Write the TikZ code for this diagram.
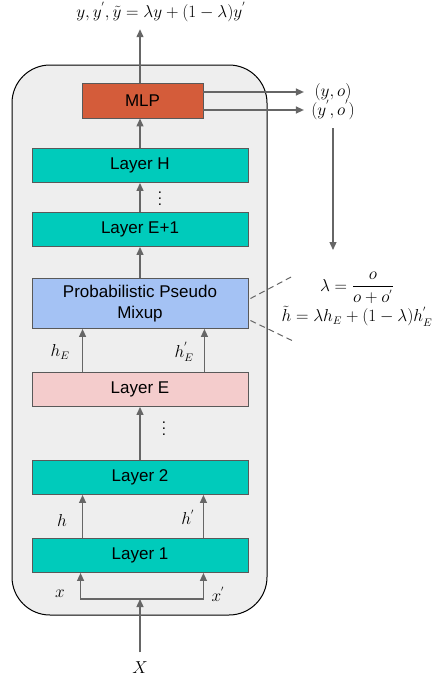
\documentclass[tikz,border=0pt]{standalone}
\usepackage{amsmath}
\usepackage{fontspec}
\setmainfont{Liberation Sans}
\usepackage{tikz}
\usetikzlibrary{arrows.meta, positioning}

\definecolor{tealfill}{RGB}{0,203,187}
\definecolor{mlpfill}{RGB}{212,92,58}
\definecolor{mixfill}{RGB}{164,194,244}
\definecolor{pinkfill}{RGB}{244,204,204}
\definecolor{boxline}{RGB}{89,89,89}
\definecolor{arrowgray}{RGB}{102,102,102}
\definecolor{backfill}{RGB}{238,238,238}

\newcommand{\lyrfont}{\fontsize{17}{21}\selectfont}
\newcommand{\mathsz}{\fontsize{16}{19}\selectfont}
\newcommand{\dotsfont}{\fontsize{15}{6}\selectfont}

\begin{document}
\begin{tikzpicture}[x=1pt, y=-1pt, node distance=64pt]
\tikzstyle{layer} = [rectangle, minimum width=216pt, minimum height=34pt, text centered, align=center, draw=boxline, line width=0.9pt, fill=tealfill, font=\lyrfont]
\tikzstyle{line} = [draw=arrowgray, line width=1.3pt, -{Triangle[length=8pt,width=7pt]}]
\tikzstyle{lbl} = [font=\mathsz, inner sep=0.5pt]
\tikzstyle{vdots} = [font=\dotsfont, align=center, inner sep=0pt]
\tikzstyle{dashline} = [draw=arrowgray, line width=1pt, dash pattern=on 6pt off 4pt]

\useasboundingbox (0,0) rectangle (432,681);
% backbone
\draw[rounded corners=38pt, fill=backfill, line width=1pt] (12,65) rectangle (267,615);

\node (mlp) [layer, fill=mlpfill, minimum width=121pt, minimum height=35pt] at (142.5,100.5) {MLP};
\node (layerH) [layer, below of=mlp, xshift=-2.5pt, yshift=-1pt] {Layer H};
\node (layerE1) [layer, below of=layerH] {Layer E+1};
\node (mixup) [layer, fill=mixfill, minimum height=50pt, below of=layerE1, yshift=-10pt] {Probabilistic Pseudo\\Mixup};
\node (layerE) [layer, fill=pinkfill, below of=mixup, yshift=-22pt] {Layer E};
\node (layer2) [layer, below of=layerE, yshift=-24pt] {Layer 2};
\node (layer1) [layer, below of=layer2, yshift=-14pt] {Layer 1};

\node (dotsA) [vdots] at (160,199) {.\\.\\.};
\node (dotsB) [vdots] at (164,429) {.\\.\\.};

% labels
\node (out) [lbl] at (161,12) {$y,y^{'},\tilde{y}=\lambda y+(1-\lambda)y^{'}$};
\node (X) [lbl] at (140,668) {$X$};
\node (xa) [lbl] at (60,594) {$x$};
\node (xb) [lbl] at (218,594) {$x^{'}$};
\node (ha) [lbl] at (62,520) {$h$};
\node (hb) [lbl] at (188,517) {$h^{'}$};
\node (hEa) [lbl] at (60,352) {$h_E$};
\node (hEb) [lbl] at (184,352) {$h^{'}_E$};
\node (yo) [lbl] at (333,92) {$(y,o)$};
\node (yo2) [lbl] at (333,110) {$(y^{'},o^{'})$};
\node (lam) [lbl] at (357,288) {$\lambda=\dfrac{o}{o+o^{'}}$};
\node (mix) [lbl] at (357,316) {$\tilde{h}=\lambda h_E+(1-\lambda)h^{'}_E$};

\coordinate (split) at (140,599);
\coordinate (lamtop) at (333,250);
\coordinate (dashT) at (293,276);
\coordinate (dashB) at (293,341);

% connectors
\path [line] (X.north) ++(0,-9) -- (split);
\path [line] (split) -| ([xshift=49pt]layer1.south west);
\path [line] (split) -| ([xshift=-45pt]layer1.south east);
\path [line] ([xshift=51pt]layer1.north west) -- ([xshift=51pt]layer2.south west);
\path [line] ([xshift=-45pt]layer1.north east) -- ([xshift=-45pt]layer2.south east);
\path [line] (layer2.north) -- (layerE.south);
\path [line] ([xshift=51pt]layerE.north west) -- ([xshift=51pt]mixup.south west);
\path [line] ([xshift=-44pt]layerE.north east) -- ([xshift=-44pt]mixup.south east);
\path [line] (mixup.north) -- (layerE1.south);
\path [line] (layerE1.north) -- (layerH.south);
\path [line] (layerH.north) -- (layerH.north |- mlp.south);
\path [line, shorten >=7pt] (mlp.north -| layerH.north) -- (out.south -| layerH.north);
\path [line] (mlp.east |- yo) -- ([xshift=-10pt]yo.west);
\path [line] (mlp.east |- yo2) -- ([xshift=-10pt]yo.west |- yo2);
\path [line] ([yshift=-8pt]yo2.south) -- (lamtop);
\path [dashline] ([xshift=2pt,yshift=5pt]mixup.east) -- (dashT);
\path [dashline] ([xshift=2pt,yshift=-17pt]mixup.east) -- (dashB);

\end{tikzpicture}
\end{document}
